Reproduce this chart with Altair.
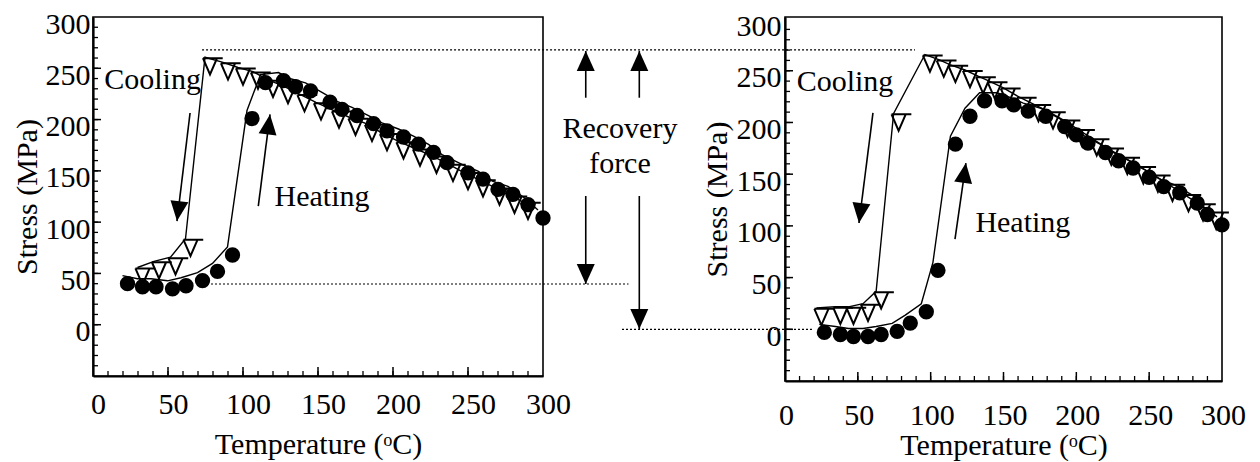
import altair as alt
import pandas as pd

# ---------------- data ----------------
# Left panel: cooling (open triangles) and heating (filled circles)
L_COOL_T = [290, 281, 271, 260, 250, 240, 229, 218, 207, 196, 186, 175, 164, 152, 141,
            130, 120, 110, 100, 90, 78, 65, 55, 44, 33]
L_COOL_S = [112, 118, 126, 134, 141, 149, 157, 164, 171, 179, 188, 194, 201, 209, 217,
            225, 231, 239, 243, 248, 253, 76, 58, 54, 48]
L_HEAT_T = [23, 33, 42, 53, 62, 73, 83, 93, 106, 115, 127, 135, 145, 158, 166, 176, 187,
            196, 207, 217, 227, 236, 250, 260, 270, 280, 290, 300]
L_HEAT_S = [40, 37, 37, 35, 38, 43, 52, 68, 201, 236, 238, 232, 228, 217, 210, 204, 196,
            189, 183, 176, 168, 158, 148, 142, 132, 127, 117, 104]

# Right panel
R_COOL_T = [296, 287, 277, 266, 256, 246, 235, 224, 214, 204, 194, 184, 174, 164, 153,
            144, 136, 127, 117, 109, 99.5, 78, 66, 57, 47, 38, 25]
R_COOL_S = [106, 114, 123, 133, 142, 150, 159, 168, 177, 186, 195, 203, 210, 217, 226,
            232, 237, 243, 248, 253, 258, 201, 29, 17, 14, 14, 13]
R_HEAT_T = [27, 38, 47, 57, 66, 77, 86, 97, 105, 117, 127, 137, 149, 157, 167, 179, 192,
            200, 208, 220, 229, 239, 250, 260, 271, 283, 290, 300]
R_HEAT_S = [-3, -5, -7, -7, -5, -2, 6, 17, 57, 179, 206, 221, 221, 217, 211, 206, 196,
            188, 180, 171, 163, 156, 147, 138, 132, 122, 111, 101]

# axis ticks
X_LABELS = [0, 50, 100, 150, 200, 250, 300]
Y_LABELS = [0, 50, 100, 150, 200, 250, 300]
X_MINOR = list(range(10, 300, 10))
X_MAJOR = [50, 100, 150, 200, 250]
Y_MINOR = list(range(-40, 300, 10))
Y_MAJOR = [0, 50, 100, 150, 200, 250]

# annotations (data coordinates of each panel)
UP = "M0,0L0.9,2L-0.9,2Z"
DOWN = "M0,0L0.9,-2L-0.9,-2Z"

L_ARROWS = pd.DataFrame({
    "T":  [56, 118, 328.5, 364.2, 328.5, 364.2],
    "S":  [101, 205, 266.9, 266.9, 39.7, -4.2],
    "T2": [64.7, 110.2, 328.5, 364.2, 328.5, 364.2],
    "S2": [206.4, 115.7, 221.3, 221.3, 125.5, 125.5],
    "shp": [DOWN, UP, UP, UP, DOWN, DOWN],
    "ang": [7, 7, 0, 0, 0, 0],
})
L_TEXT = pd.DataFrame({
    "T": [39.7, 152.7, 351.3, 351.3],
    "S": [238.6, 124.5, 190.8, 156.7],
    "txt": ["Cooling", "Heating", "Recovery", "force"],
})
L_DOTS = pd.DataFrame({"T": [72.7, 76], "T2": [548, 357], "S": [268, 39.7]})

R_ARROWS = pd.DataFrame({
    "T":  [50.8, 124.2],
    "S":  [102.8, 160.8],
    "T2": [60.4, 116.7],
    "S2": [209.2, 87.3],
    "shp": [DOWN, UP],
    "ang": [7, 8],
})
R_TEXT = pd.DataFrame({"T": [41.2, 163.3], "S": [239.2, 102.8], "txt": ["Cooling", "Heating"]})
R_DOTS = pd.DataFrame({"T": [-111.9], "T2": [18.5], "S": [0]})

FONT = "Liberation Serif, Times New Roman, serif"
FS = 30


def panel(cool_T, cool_S, heat_T, heat_S, w, h, ydom, arrows, texts, dots,
          y_lab_off, x_lab_off, x_lab_pad, x_title_pad, y_lab_pad, y_title_pad):
    xs = alt.Scale(domain=[0, 300], nice=False, zero=False)
    ys = alt.Scale(domain=ydom, nice=False, zero=False)
    xaxis = alt.Axis(values=X_LABELS, title="Temperature (ᵒC)", labelOffset=x_lab_off,
                     labelPadding=x_lab_pad, titlePadding=x_title_pad, format="d",
                     labelFlush=False)
    yaxis = alt.Axis(values=Y_LABELS, title="Stress (MPa)", labelOffset=y_lab_off,
                     labelPadding=y_lab_pad, titlePadding=y_title_pad, format="d",
                     labelFlush=False)

    def X(f="T"):
        return alt.X(f, type="quantitative", scale=xs, axis=xaxis)

    def Y(f="S"):
        return alt.Y(f, type="quantitative", scale=ys, axis=yaxis)

    layers = []
    # inside ticks
    layers.append(alt.Chart(pd.DataFrame({"T": X_MINOR})).mark_rule(color="black", strokeWidth=1.3)
                  .encode(x=X(), y=alt.value(h), y2=alt.value(h - 5)))
    layers.append(alt.Chart(pd.DataFrame({"T": X_MAJOR})).mark_rule(color="black", strokeWidth=1.5)
                  .encode(x=X(), y=alt.value(h), y2=alt.value(h - 9)))
    layers.append(alt.Chart(pd.DataFrame({"S": Y_MINOR})).mark_rule(color="black", strokeWidth=1.3)
                  .encode(y=Y(), x=alt.value(0), x2=alt.value(5)))
    layers.append(alt.Chart(pd.DataFrame({"S": Y_MAJOR})).mark_rule(color="black", strokeWidth=1.5)
                  .encode(y=Y(), x=alt.value(0), x2=alt.value(8)))
    # dotted guides
    layers.append(alt.Chart(dots).mark_rule(color="black", strokeWidth=1.2, strokeDash=[2, 2])
                  .encode(x=X(), x2=alt.X2("T2"), y=Y()))
    # curves
    cool = pd.DataFrame({"T": cool_T, "S": cool_S, "i": range(len(cool_T))})
    heat = pd.DataFrame({"T": heat_T, "S": heat_S, "i": range(len(heat_T))})
    for df in (cool, heat):
        layers.append(alt.Chart(df).mark_line(color="black", strokeWidth=1.4, xOffset=-5, yOffset=-8)
                      .encode(x=X(), y=Y(), order="i:Q"))
    layers.append(alt.Chart(cool).mark_point(
        shape="M-1,-1L1.8,-1M1,-1L0,1.3L-1,-1", filled=False, color="black",
        strokeWidth=2, size=200, opacity=1).encode(x=X(), y=Y()))
    layers.append(alt.Chart(heat).mark_circle(color="black", size=235, opacity=1)
                  .encode(x=X(), y=Y()))
    # arrows
    layers.append(alt.Chart(arrows).mark_rule(color="black", strokeWidth=1.6)
                  .encode(x=X(), y=Y(), x2=alt.X2("T2"), y2=alt.Y2("S2")))
    layers.append(alt.Chart(arrows).mark_point(filled=True, color="black", opacity=1,
                                               size=400, strokeWidth=0)
                  .encode(x=X(), y=Y(), shape=alt.Shape("shp:N", scale=None),
                          angle=alt.Angle("ang:Q", scale=None)))
    layers.append(alt.Chart(texts).mark_text(font=FONT, fontSize=FS, color="black")
                  .encode(x=X(), y=Y(), text="txt:N"))
    return alt.layer(*layers).properties(width=w, height=h)


left = panel(L_COOL_T, L_COOL_S, L_HEAT_T, L_HEAT_S, 450, 359, [-50, 300],
             L_ARROWS, L_TEXT, L_DOTS,
             y_lab_off=7, x_lab_off=5, x_lab_pad=13, x_title_pad=10, y_lab_pad=3, y_title_pad=3)
right = panel(R_COOL_T, R_COOL_S, R_HEAT_T, R_HEAT_S, 437, 364, [-50, 302],
              R_ARROWS, R_TEXT, R_DOTS,
              y_lab_off=7, x_lab_off=1, x_lab_pad=19, x_title_pad=0, y_lab_pad=4, y_title_pad=4)

chart = alt.hconcat(left, right, spacing=242, bounds="flush").properties(
    padding={"left": 3, "top": 0, "right": 2, "bottom": 0}
).configure_axis(
    domainColor="black", domainWidth=2.2, grid=False, ticks=False,
    labelFont=FONT, labelFontSize=FS, labelColor="black",
    titleFont=FONT, titleFontSize=FS, titleFontWeight="normal", titleColor="black",
).configure_view(stroke="black", strokeWidth=1.6)

chart.save("out.html", embed_options={"renderer": "svg", "actions": False})
